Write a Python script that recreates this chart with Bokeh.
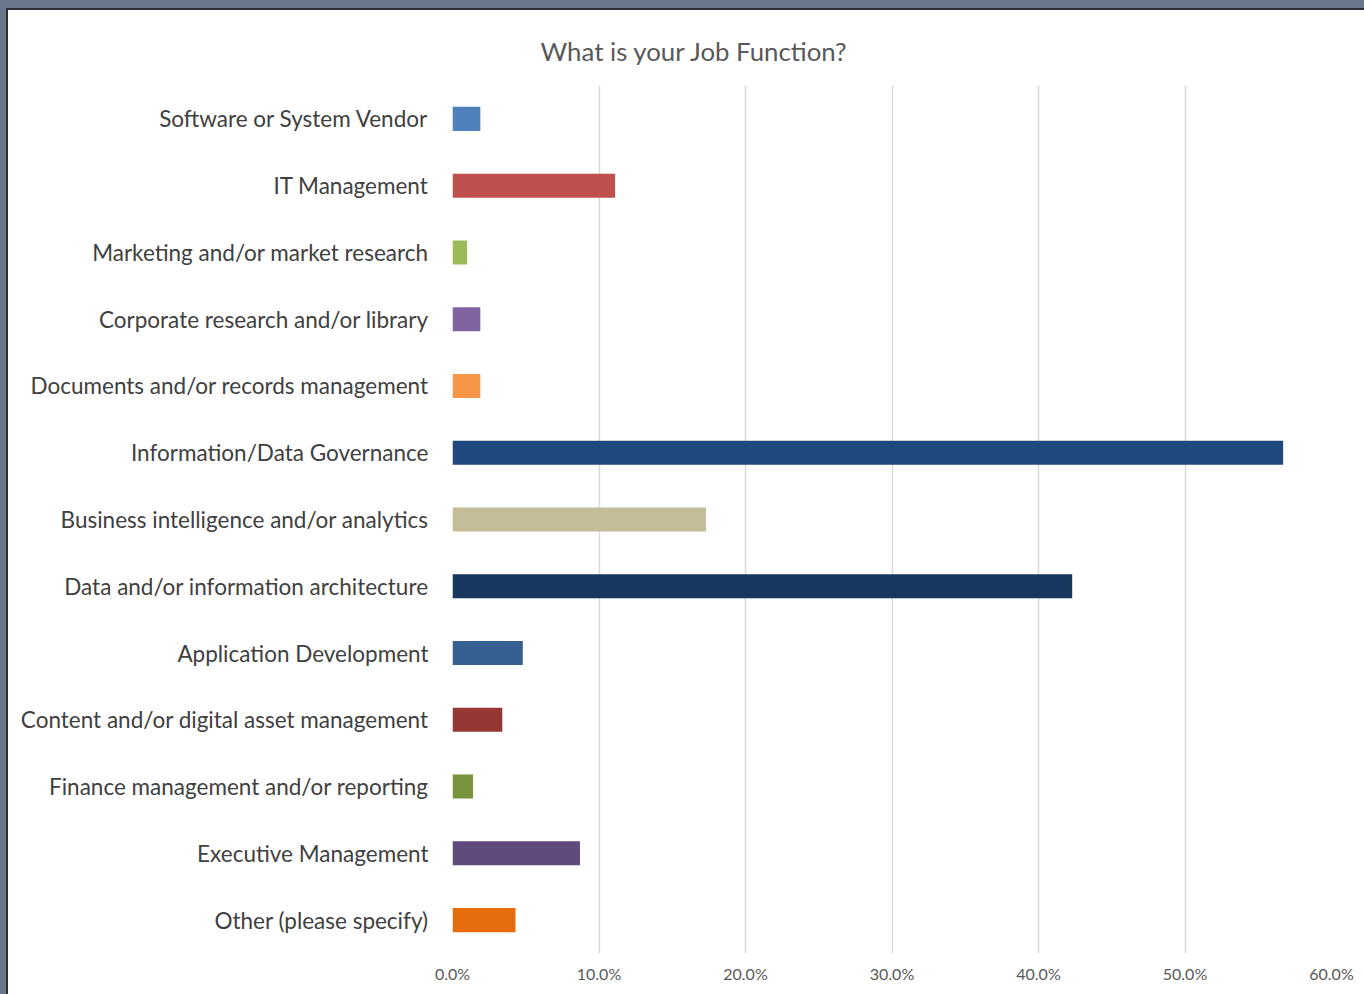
from bokeh.plotting import figure
from bokeh.models import FactorRange, ColumnDataSource, Title, NumeralTickFormatter, FixedTicker
from bokeh.embed import file_html
from bokeh.resources import INLINE

categories = [
    "Software or System Vendor",
    "IT Management",
    "Marketing and/or market research",
    "Corporate research and/or library",
    "Documents and/or records management",
    "Information/Data Governance",
    "Business intelligence and/or analytics",
    "Data and/or information architecture",
    "Application Development",
    "Content and/or digital asset management",
    "Finance management and/or reporting",
    "Executive Management",
    "Other (please specify)",
]
values = [0.019, 0.111, 0.010, 0.019, 0.019, 0.567, 0.173, 0.423, 0.048, 0.034, 0.014, 0.087, 0.043]
colors = ["#4F81BD", "#C0504D", "#9BBB59", "#8064A2", "#F79646", "#1F497D", "#C4BD97",
          "#17375E", "#376092", "#953735", "#77933C", "#604A7B", "#E46C0A"]
x_ticks = [0.0, 0.1, 0.2, 0.3, 0.4, 0.5, 0.6]
title_text = "What is your Job Function?"

FONT = "Lato"

src = ColumnDataSource(dict(cat=categories, val=values, col=colors))

p = figure(
    width=1358, height=986,
    y_range=FactorRange(factors=list(reversed(categories))),
    x_range=(0, 0.6),
    output_backend="svg", toolbar_location=None,
    min_border_left=444, min_border_right=35, min_border_top=75, min_border_bottom=43,
)
p.styles = {"margin-left": "6px", "margin-top": "8px",
            "border-top": "2px solid #2b2f36", "border-left": "2px solid #2b2f36",
            "box-shadow": "0 0 0 8px #6B778A"}

p.hbar(y="cat", right="val", left=0, height=0.36, color="col", source=src, line_color=None)

p.outline_line_color = None
p.background_fill_color = "white"
p.border_fill_color = "white"

p.xgrid.grid_line_color = "#D9D9D9"
p.xgrid.grid_line_width = 1.5
p.ygrid.grid_line_color = None
p.xaxis.ticker = FixedTicker(ticks=x_ticks)
p.xaxis.formatter = NumeralTickFormatter(format="0.0%")
p.xaxis.axis_line_color = None
p.xaxis.major_tick_line_color = None
p.xaxis.minor_tick_line_color = None
p.xaxis.major_tick_out = 0
p.xaxis.major_tick_in = 0
p.xaxis.minor_tick_out = 0
p.xaxis.major_label_text_font = FONT
p.xaxis.major_label_text_font_size = "16px"
p.xaxis.major_label_text_color = "#595959"
p.xaxis.major_label_standoff = 10

p.yaxis.axis_line_color = None
p.yaxis.major_tick_line_color = None
p.yaxis.minor_tick_line_color = None
p.yaxis.major_tick_out = 0
p.yaxis.major_tick_in = 0
p.yaxis.minor_tick_out = 0
p.yaxis.major_label_text_font = FONT
p.yaxis.major_label_text_font_size = "22.5px"
p.yaxis.major_label_text_color = "#404040"
p.yaxis.major_label_standoff = 24

t = Title(text=title_text, align="left", offset=88, standoff=40, vertical_align="bottom",
          text_font=FONT, text_font_size="25.8px", text_font_style="normal",
          text_color="#595959")
p.add_layout(t, "above")

open("out.html", "w").write(file_html(p, INLINE))
